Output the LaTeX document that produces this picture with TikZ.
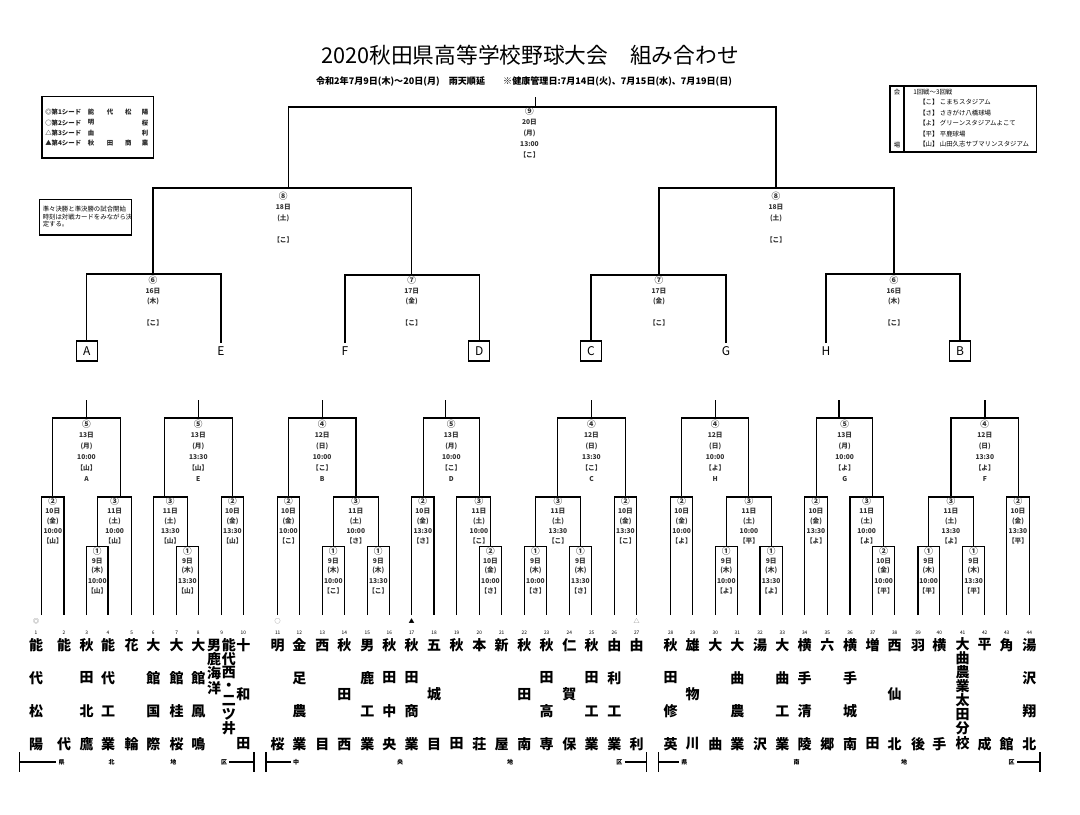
\documentclass[tikz,border=0pt]{standalone}
\usepackage{fontspec}
\setmainfont{Noto Sans CJK JP}
\tikzset{
  br/.style={line width=1.1pt},
  thinbr/.style={line width=0.8pt},
  lab/.style={font=\fontsize{5}{5}\selectfont\bfseries, text=black!80, inner sep=0pt},
  tn/.style={font=\fontsize{10.5}{10.5}\selectfont\bfseries, inner sep=0pt},
  tnum/.style={font=\fontsize{3.6}{3.6}\selectfont, inner sep=0pt},
  reg/.style={font=\fontsize{4.5}{4.5}\selectfont\bfseries, inner sep=0pt},
  letter/.style={font=\fontsize{9}{9}\selectfont, inner sep=0pt},
  lbox/.style={draw, line width=0.9pt, minimum width=15.75pt, minimum height=15pt, inner sep=0pt, font=\fontsize{9}{9}\selectfont},
  small/.style={font=\fontsize{4.8}{4.8}\selectfont\bfseries, text=black!85, inner sep=0pt},
  note/.style={font=\fontsize{4.8}{4.8}\selectfont, inner sep=0pt}
}
\newcommand\cn[1]{{\fontsize{6.5}{6.5}\selectfont #1}}
\newcommand\bkt[5]{\draw[br] (#1,#4) -- (#1,#3) -- (#2,#3) -- (#2,#5);}
\newcommand\blab[5]{\foreach \t [count=\i] in {#4} {\node[lab] (#5-\i) at (#1,{#2+(\i-1)*#3}) {\t};}}
\newcommand\tm[4]{\node[tnum] (n#2) at (#1,633) {#2};
  \foreach \c [count=\i] in {#3} {\node[tn] (t#2-\i) at (#1,{645+(\i-1)*#4}) {\c};}}
\begin{document}
\begin{tikzpicture}[x=0.75pt,y=-0.75pt]
\useasboundingbox (0,0) rectangle (1080,814);
\fill[white] (0,0) rectangle (1080,814);

% title
\node[font=\fontsize{16.3}{17}\selectfont, inner sep=0pt] (title) at (530,55) {2020秋田県高等学校野球大会\quad 組み合わせ};
\node[font=\fontsize{6.8}{7}\selectfont\bfseries, inner sep=0pt] (sub) at (524,81.7) {令和2年7月9日(木)～20日(月)\quad 雨天順延\qquad ※健康管理日:7月14日(火)、7月15日(水)、7月19日(日)};

% legend
\draw[thinbr] (42,96.7) rectangle (153.3,158);
\node[small, anchor=west] (s1) at (45,112) {◎第1シード};
\node[small, anchor=west] (s2) at (45,122.7) {○第2シード};
\node[small, anchor=west] (s3) at (45,133) {△第3シード};
\node[small, anchor=west] (s4) at (45,143.3) {▲第4シード};
\node[small] (s1a) at (91,112) {能};\node[small] (s1b) at (110,112) {代};\node[small] (s1c) at (128.3,112) {松};\node[small] (s1d) at (145,112) {陽};
\node[small] (s2a) at (91,122.7) {明};\node[small] (s2d) at (145,122.7) {桜};
\node[small] (s3a) at (91,133) {由};\node[small] (s3d) at (145,133) {利};
\node[small] (s4a) at (91,143.3) {秋};\node[small] (s4b) at (110,143.3) {田};\node[small] (s4c) at (128.3,143.3) {商};\node[small] (s4d) at (145,143.3) {業};

% note
\draw[thinbr] (39.3,199.3) rectangle (131.7,235);
\node[note, anchor=west] (nt1) at (42.5,209) {準々決勝と準決勝の試合開始};
\node[note, anchor=west] (nt2) at (42.5,216.7) {時刻は対戦カードをみながら決};
\node[note, anchor=west] (nt3) at (42.5,224.3) {定する。};

% venue
\draw[thinbr] (890,86) rectangle (1036.7,152);
\draw[thinbr] (904,86) -- (904,152);
\node[note] (v0) at (897,92) {会};
\node[note] (v9) at (897,145) {場};
\node[note, anchor=west] (v1) at (913,92) {1回戦～3回戦};
\node[note, anchor=west] (v2) at (919,102.5) {【こ】 こまちスタジアム};
\node[note, anchor=west] (v3) at (919,113) {【さ】 さきがけ八橋球場};
\node[note, anchor=west] (v4) at (919,123.5) {【よ】 グリーンスタジアムよこて};
\node[note, anchor=west] (v5) at (919,134) {【平】 平鹿球場};
\node[note, anchor=west] (v6) at (919,144.5) {【山】 山田久志サブマリンスタジアム};

% final and semis
\draw[br] (535.7,97) -- (535.7,107);
\bkt{288.3}{776}{107}{188}{188}
\blab{529.5}{111}{11}{\cn{⑨},20日,(月),13:00,【こ】}{q9}
\bkt{153}{411.7}{188}{274}{275}
\blab{283.3}{196}{11}{\cn{⑧},18日,(土),{},【こ】}{q8a}
\bkt{659}{894}{188}{275}{274}
\blab{776}{196}{11}{\cn{⑧},18日,(土),{},【こ】}{q8b}
% quarters
\bkt{86.7}{221}{274}{341}{343}
\blab{153}{280}{10.7}{\cn{⑥},16日,(木),{},【こ】}{q6a}
\bkt{345}{479.3}{275}{343}{341}
\blab{411.7}{280}{10.7}{\cn{⑦},17日,(金),{},【こ】}{q7a}
\bkt{591}{726}{275}{341}{343}
\blab{659}{280}{10.7}{\cn{⑦},17日,(金),{},【こ】}{q7b}
\bkt{826}{960}{274}{343}{341}
\blab{894}{280}{10.7}{\cn{⑥},16日,(木),{},【こ】}{q6b}

% letters
\node[lbox] (LA) at (86.7,351) {A};
\node[letter] (LE) at (221,351) {E};
\node[letter] (LF) at (345,351) {F};
\node[lbox] (LD) at (479.3,351) {D};
\node[lbox] (LC) at (591,351) {C};
\node[letter] (LG) at (726,351) {G};
\node[letter] (LH) at (826,351) {H};
\node[lbox] (LB) at (960,351) {B};

% ===== Group A
\draw[br] (86.7,400) -- (86.7,418);
\bkt{52.3}{120.7}{418}{497}{497}
\blab{86.5}{424}{11}{\cn{⑤},13日,(月),10:00,【山】,A}{gA}
\bkt{41.7}{64}{497}{615}{615}
\blab{52.8}{501}{10}{\cn{②},10日,(金),10:00,【山】}{gA2}
\bkt{97.7}{131.7}{497}{546.7}{615}
\blab{114.7}{501}{10}{\cn{③},11日,(土),10:00,【山】}{gA3}
\bkt{86.7}{108}{546.7}{615}{615}
\blab{97.3}{550.7}{10}{\cn{①},9日,(木),10:00,【山】}{gA1}
% ===== Group E
\draw[br] (198.7,400) -- (198.7,418);
\bkt{164.3}{232.3}{418}{497}{497}
\blab{198.3}{424}{11}{\cn{⑤},13日,(月),13:30,【山】,E}{gE}
\bkt{153.3}{187.3}{497}{615}{546.7}
\blab{170.3}{501}{10}{\cn{③},11日,(土),13:30,【山】}{gE3}
\bkt{176.7}{198.3}{546.7}{615}{615}
\blab{187.5}{550.7}{10}{\cn{①},9日,(木),13:30,【山】}{gE1}
\bkt{221.7}{243.3}{497}{615}{615}
\blab{232.5}{501}{10}{\cn{②},10日,(金),13:30,【山】}{gE2}
% ===== Group B
\draw[br] (322.3,400) -- (322.3,418);
\bkt{288.3}{356}{418}{497}{497}
\blab{322.2}{424}{11}{\cn{④},12日,(日),10:00,【こ】,B}{gB}
\bkt{277.7}{299.3}{497}{615}{615}
\blab{288.5}{501}{10}{\cn{②},10日,(金),10:00,【こ】}{gB2}
\bkt{333.3}{378.3}{497}{546.7}{546.7}
\blab{355.8}{501}{10}{\cn{③},11日,(土),10:00,【さ】}{gB3}
\bkt{322.3}{344.3}{546.7}{615}{615}
\blab{333.3}{550.7}{10}{\cn{①},9日,(木),10:00,【こ】}{gB1a}
\bkt{367.3}{389.3}{546.7}{615}{615}
\blab{378.3}{550.7}{10}{\cn{①},9日,(木),13:30,【こ】}{gB1b}
% ===== Group D
\draw[br] (445.7,400) -- (445.7,418);
\bkt{423.3}{479.3}{418}{497}{497}
\blab{451.3}{424}{11}{\cn{⑤},13日,(月),10:00,【こ】,D}{gD}
\bkt{411.7}{434}{497}{615}{615}
\blab{422.8}{501}{10}{\cn{②},10日,(金),13:30,【さ】}{gD2}
\bkt{456.7}{490.7}{497}{615}{546.7}
\blab{479}{501}{10}{\cn{③},11日,(土),10:00,【こ】}{gD3}
\bkt{479.3}{501.7}{546.7}{615}{615}
\blab{490.5}{550.7}{10}{\cn{②},10日,(金),10:00,【さ】}{gD2b}
% ===== Group C
\draw[br] (591.7,400) -- (591.7,418);
\bkt{557.3}{625.7}{418}{497}{497}
\blab{591.5}{424}{11}{\cn{④},12日,(日),13:30,【こ】,C}{gC}
\bkt{535.3}{580.7}{497}{546.7}{546.7}
\blab{558}{501}{10}{\cn{③},11日,(土),13:30,【こ】}{gC3}
\bkt{524.3}{546.7}{546.7}{615}{615}
\blab{535.5}{550.7}{10}{\cn{①},9日,(木),10:00,【さ】}{gC1a}
\bkt{569.3}{591.7}{546.7}{615}{615}
\blab{580.5}{550.7}{10}{\cn{①},9日,(木),13:30,【さ】}{gC1b}
\bkt{614.3}{636.7}{497}{615}{615}
\blab{625.5}{501}{10}{\cn{②},10日,(金),13:30,【こ】}{gC2}
% ===== Group H
\draw[br] (715.3,400) -- (715.3,418);
\bkt{681.7}{748.7}{418}{497}{497}
\blab{715.2}{424}{11}{\cn{④},12日,(日),10:00,【よ】,H}{gH}
\bkt{670.7}{692.7}{497}{615}{615}
\blab{681.7}{501}{10}{\cn{②},10日,(金),10:00,【よ】}{gH2}
\bkt{726.7}{771.3}{497}{546.7}{546.7}
\blab{749}{501}{10}{\cn{③},11日,(土),10:00,【平】}{gH3}
\bkt{715.3}{737.3}{546.7}{615}{615}
\blab{726.3}{550.7}{10}{\cn{①},9日,(木),10:00,【よ】}{gH1a}
\bkt{760}{782.3}{546.7}{615}{615}
\blab{771.2}{550.7}{10}{\cn{①},9日,(木),13:30,【よ】}{gH1b}
% ===== Group G
\draw[br] (839,400) -- (839,418);
\bkt{816.7}{872.7}{418}{497}{497}
\blab{844.7}{424}{11}{\cn{⑤},13日,(月),10:00,【よ】,G}{gG}
\bkt{804.7}{827.3}{497}{615}{615}
\blab{816}{501}{10}{\cn{②},10日,(金),13:30,【よ】}{gG2}
\bkt{850}{883.3}{497}{615}{546.7}
\blab{866.7}{501}{10}{\cn{③},11日,(土),10:00,【よ】}{gG3}
\bkt{872.7}{894.7}{546.7}{615}{615}
\blab{883.7}{550.7}{10}{\cn{②},10日,(金),10:00,【平】}{gG2b}
% ===== Group F
\draw[br] (985,400) -- (985,418);
\bkt{951}{1018.7}{418}{497}{497}
\blab{984.8}{424}{11}{\cn{④},12日,(日),13:30,【よ】,F}{gF}
\bkt{928.7}{973.3}{497}{546.7}{546.7}
\blab{951}{501}{10}{\cn{③},11日,(土),13:30,【よ】}{gF3}
\bkt{918}{939.3}{546.7}{615}{615}
\blab{928.7}{550.7}{10}{\cn{①},9日,(木),10:00,【平】}{gF1a}
\bkt{962.7}{984.7}{546.7}{615}{615}
\blab{973.7}{550.7}{10}{\cn{①},9日,(木),13:30,【平】}{gF1b}
\bkt{1006.7}{1029.3}{497}{615}{615}
\blab{1018}{501}{10}{\cn{②},10日,(金),13:30,【平】}{gF2}

% seeds
\node[tnum, font=\fontsize{4.5}{4.5}\selectfont, text=black!60] (sd1) at (36,621) {◎};
\node[tnum, font=\fontsize{4.5}{4.5}\selectfont, text=black!60] (sd2) at (277.7,621) {○};
\node[tnum, font=\fontsize{4.5}{4.5}\selectfont] (sd4) at (411.7,621) {▲};
\node[tnum, font=\fontsize{4.5}{4.5}\selectfont, text=black!60] (sd3) at (636.7,621) {△};

% teams
\tm{36}{1}{能,代,松,陽}{33}
\tm{64}{2}{能,代}{99}
\tm{86.7}{3}{秋,田,北,鷹}{33}
\tm{108}{4}{能,代,工,業}{33}
\tm{131.7}{5}{花,輪}{99}
\tm{153.3}{6}{大,館,国,際}{33}
\tm{176.7}{7}{大,館,桂,桜}{33}
\tm{198.3}{8}{大,館,鳳,鳴}{33}
\node[tnum] (n9) at (221.7,633) {9};
\foreach \c [count=\i] in {男,鹿,海,洋} {\node[tn] (t9a-\i) at (214,{645+(\i-1)*14.3}) {\c};}
\foreach \c [count=\i] in {能,代,西,・,二,ツ,井} {\node[tn] (t9b-\i) at (228.8,{645+(\i-1)*13.8}) {\c};}
\tm{243.3}{10}{十,和,田}{49.5}
\tm{277.7}{11}{明,桜}{99}
\tm{299.3}{12}{金,足,農,業}{33}
\tm{322.3}{13}{西,目}{99}
\tm{344.3}{14}{秋,田,西}{49.5}
\tm{367.3}{15}{男,鹿,工,業}{33}
\tm{389.3}{16}{秋,田,中,央}{33}
\tm{411.7}{17}{秋,田,商,業}{33}
\tm{434}{18}{五,城,目}{49.5}
\tm{456.7}{19}{秋,田}{99}
\tm{479.3}{20}{本,荘}{99}
\tm{501.7}{21}{新,屋}{99}
\tm{524.3}{22}{秋,田,南}{49.5}
\tm{546.7}{23}{秋,田,高,専}{33}
\tm{569.3}{24}{仁,賀,保}{49.5}
\tm{591.7}{25}{秋,田,工,業}{33}
\tm{614.3}{26}{由,利,工,業}{33}
\tm{636.7}{27}{由,利}{99}
\tm{670.7}{28}{秋,田,修,英}{33}
\tm{692.7}{29}{雄,物,川}{49.5}
\tm{715.3}{30}{大,曲}{99}
\tm{737.3}{31}{大,曲,農,業}{33}
\tm{760}{32}{湯,沢}{99}
\tm{782.3}{33}{大,曲,工,業}{33}
\tm{804.7}{34}{横,手,清,陵}{33}
\tm{827.3}{35}{六,郷}{99}
\tm{850}{36}{横,手,城,南}{33}
\tm{872.7}{37}{増,田}{99}
\tm{894.7}{38}{西,仙,北}{49.5}
\tm{918}{39}{羽,後}{99}
\tm{939.3}{40}{横,手}{99}
\node[tnum] (n41) at (962.7,633) {41};
\foreach \c [count=\i] in {大,曲,農,業,太,田,分,校} {\node[tn] (t41-\i) at (962.7,{644+(\i-1)*14.1}) {\c};}
\tm{984.7}{42}{平,成}{99}
\tm{1006.7}{43}{角,館}{99}
\tm{1029.3}{44}{湯,沢,翔,北}{33}

% regions
\draw[thinbr] (19.3,752) -- (19.3,772) (19.3,762) -- (56,762) (229,762) -- (254,762) (254,752) -- (254,772);
\node[reg] (r1a) at (61.7,762) {県};\node[reg] (r1b) at (111.7,762) {北};\node[reg] (r1c) at (173.3,762) {地};\node[reg] (r1d) at (224,762) {区};
\draw[thinbr] (266,752) -- (266,772) (266,762) -- (291,762) (624.5,762) -- (646.7,762) (646.7,752) -- (646.7,772);
\node[reg] (r2a) at (296,762) {中};\node[reg] (r2b) at (400,762) {央};\node[reg] (r2c) at (510,762) {地};\node[reg] (r2d) at (619.3,762) {区};
\draw[thinbr] (658.3,752) -- (658.3,772) (658.3,762) -- (679,762) (1017,762) -- (1040,762) (1040,752) -- (1040,772);
\node[reg] (r3a) at (684.3,762) {県};\node[reg] (r3b) at (796.7,762) {南};\node[reg] (r3c) at (904,762) {地};\node[reg] (r3d) at (1011.7,762) {区};
\end{tikzpicture}
\end{document}
